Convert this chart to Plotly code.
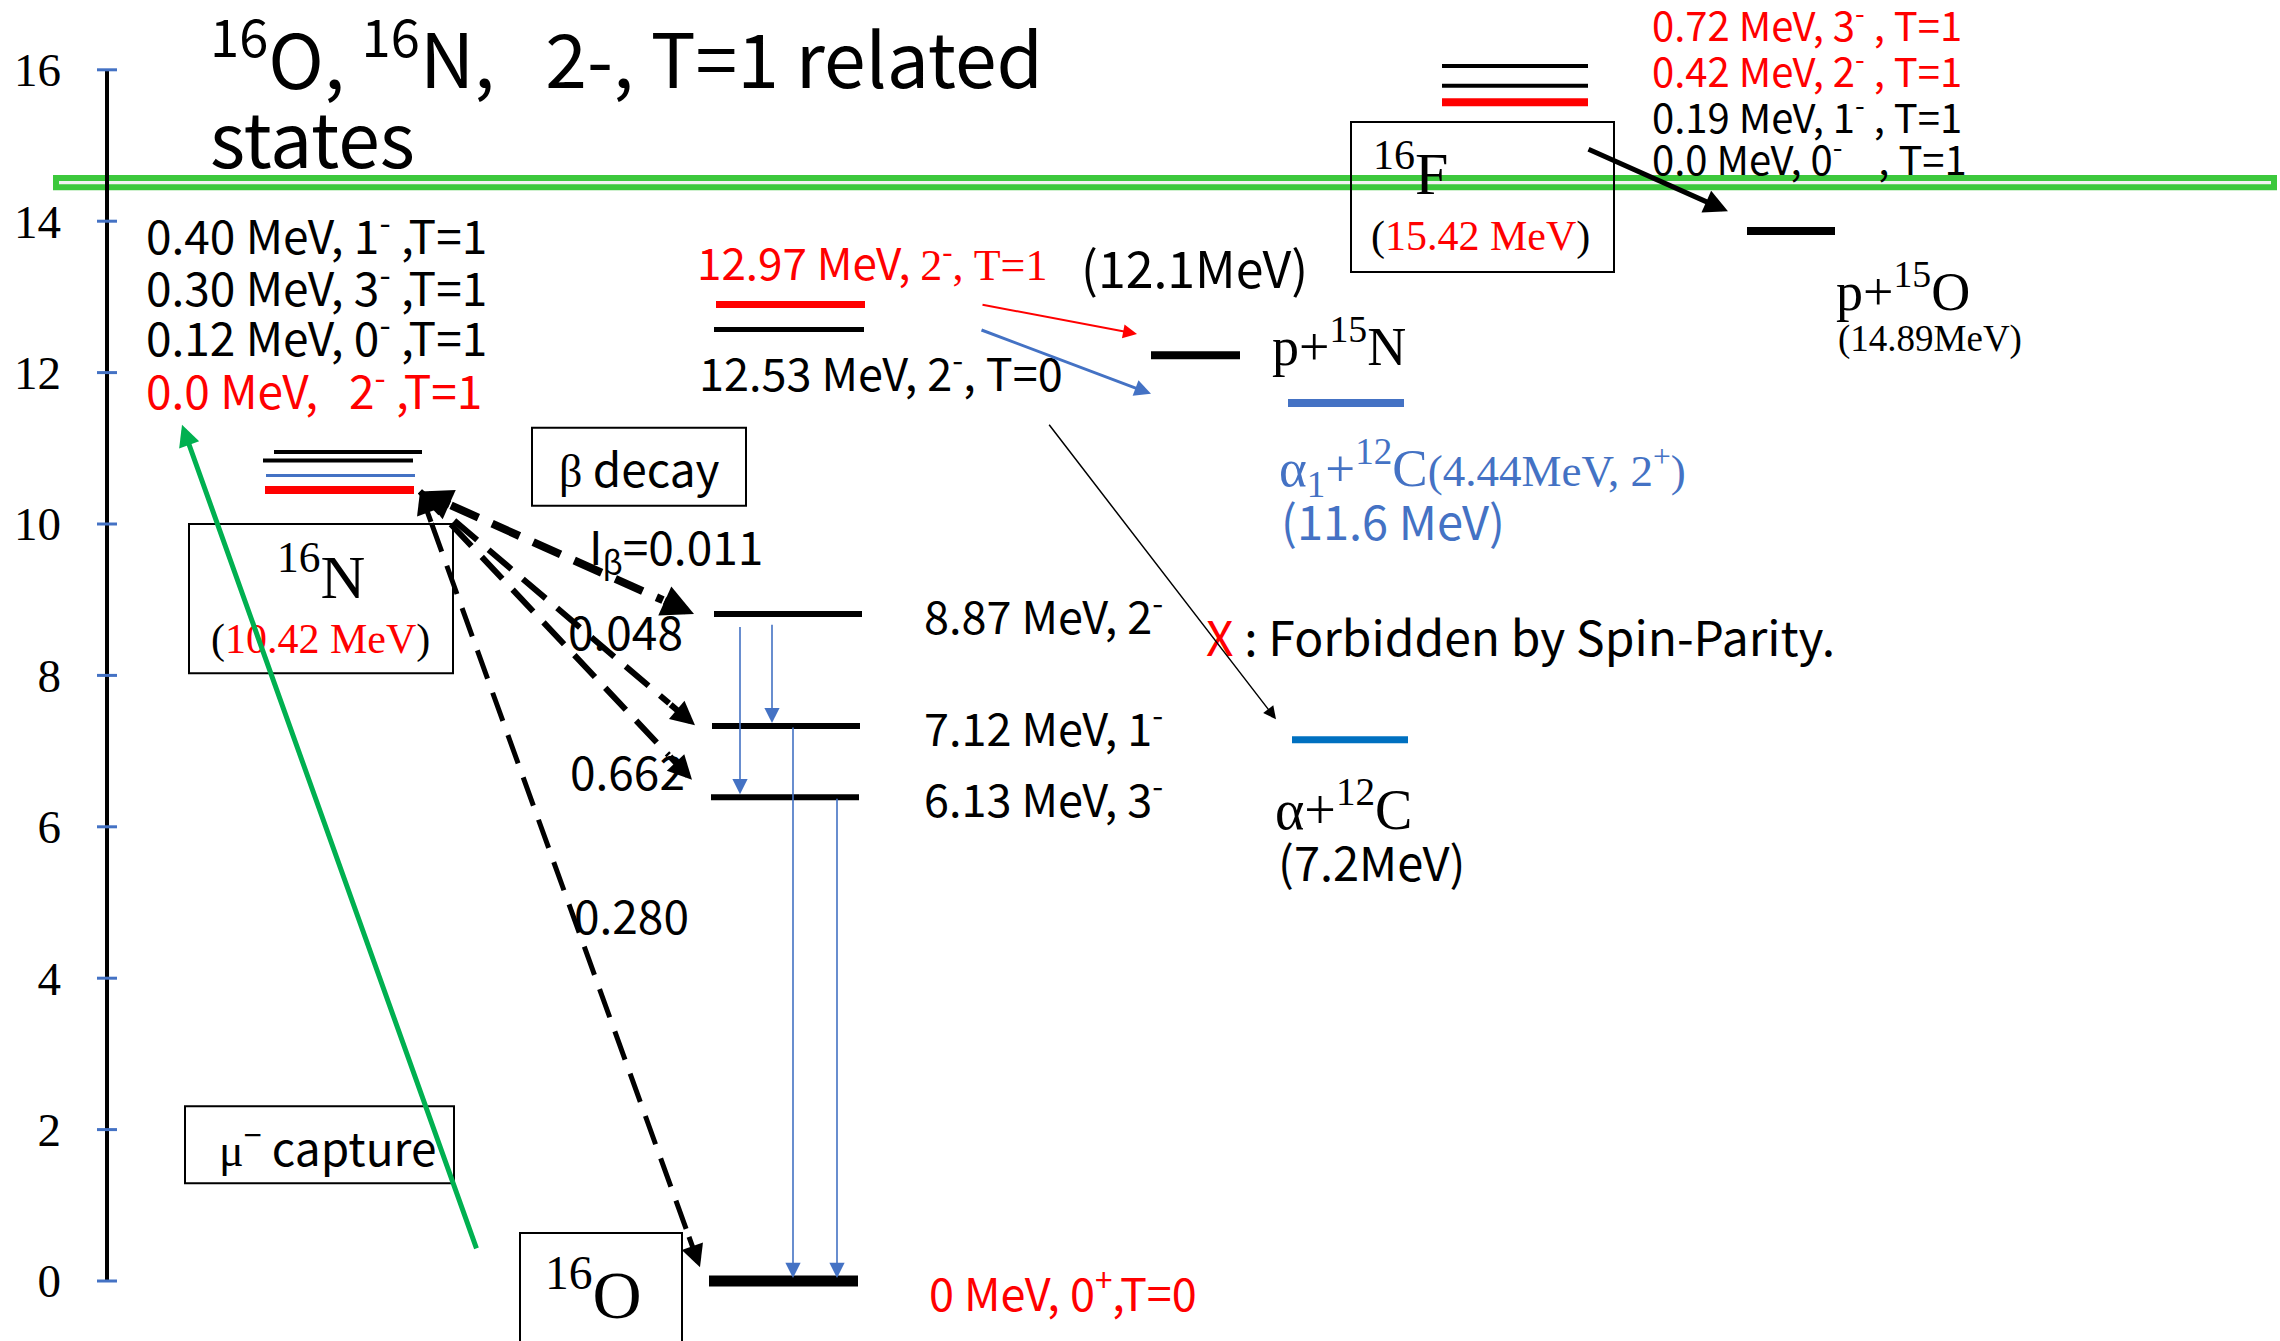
import math
import plotly.graph_objects as go

SANS = "Noto Sans CJK JP"
SERIF = "Liberation Serif"
RED = "#ff0000"
BLUE = "#4472c4"
BLUE2 = "#0070c0"
GREEN = "#00b050"
BAND = "#3cc83c"

# ---------------- data ----------------
axis_ticks = [0, 2, 4, 6, 8, 10, 12, 14, 16]

# 16N levels (as drawn, MeV) and their labels (0.0, 0.12, 0.30, 0.40 MeV)
n16_level_y = [10.45, 10.64, 10.84, 10.95]
n16_labels = ["0.0 MeV,\u00a0\u00a0 2<sup>-</sup> ,T=1", "0.12 MeV, 0<sup>-</sup> ,T=1",
              "0.30 MeV, 3<sup>-</sup> ,T=1", "0.40 MeV, 1<sup>-</sup> ,T=1"]

# 16O levels (as drawn, MeV)
o16_level_y = [8.81, 7.33, 6.39, 0.0]
o16_labels = ["8.87 MeV, 2<sup>-</sup>", "7.12 MeV, 1<sup>-</sup>",
              "6.13 MeV, 3<sup>-</sup>", "0 MeV, 0<sup>+</sup>,T=0"]
beta_branch = ["I<sub>β</sub>=0.011", "0.048", "0.662", "0.280"]
gamma_from = [0, 0, 1, 2]
gamma_to = [1, 2, 3, 3]

# 16O 2- states near 13 MeV (12.97 T=1, 12.53 T=0)
mid_level_y = [12.90, 12.57]
mid_labels = ["12.97 MeV, <span style='font-family:Liberation Serif'>2<sup>-</sup>, T=1</span>",
              "12.53 MeV, 2<sup>-</sup>, T=0"]

# decay channels (as drawn)
p15n_y = 12.23
a1c12_y = 11.60
ac12_y = 7.15
p15o_y = 13.87

# 16F levels (as drawn)
f16_level_y = [15.57, 15.79, 16.05]
f16_labels = ["0.0 MeV, 0<sup>-</sup>\u00a0\u00a0\u00a0 , T=1", "0.19 MeV, 1<sup>-</sup> , T=1",
              "0.42 MeV, 2<sup>-</sup> , T=1", "0.72 MeV, 3<sup>-</sup> , T=1"]

threshold_y = 14.51

# ---------------- figure ----------------
W, H = 2280, 1341
PX_PER_MEV = 75.7
fig = go.Figure()
ann = []
shapes = []


def seg(x0, x1, y0, y1, color, width, dash=None):
    fig.add_trace(go.Scatter(x=[x0, x1], y=[y0, y1], mode="lines",
                             line=dict(color=color, width=width, dash=dash),
                             hoverinfo="skip", showlegend=False))


def level(x0, x1, y, color, width):
    seg(x0, x1, y, y, color, width)


def arrow(x0, y0, x1, y1, color, width, size, head=2):
    ann.append(dict(x=x1, y=y1, ax=x0, ay=y0, xref="x", yref="y", axref="x", ayref="y",
                    text="", showarrow=True, arrowhead=head, arrowsize=size,
                    arrowwidth=width, arrowcolor=color, standoff=0, startstandoff=0))


def plen(x0, y0, x1, y1):
    return math.hypot(x1 - x0, (y1 - y0) * PX_PER_MEV)


def dashed_arrow(x0, y0, x1, y1, width, size, dash, tail=34, start_head=False):
    L = plen(x0, y0, x1, y1)
    f = tail / L
    xm, ym = x1 - f * (x1 - x0), y1 - f * (y1 - y0)
    xs, ys = x0, y0
    if start_head:
        xs, ys = x0 + f * (x1 - x0), y0 + f * (y1 - y0)
        arrow(xs, ys, x0, y0, "black", width, size)
    seg(xs, xm, ys, ym, "black", width, dash)
    arrow(xm, ym, x1, y1, "black", width, size)


def label(x, y, text, size, color="black", family=SANS, xanchor="left"):
    ann.append(dict(x=x, y=y, xref="x", yref="y", text=text, showarrow=False,
                    xanchor=xanchor, yanchor="middle",
                    font=dict(family=family, size=size, color=color)))


def box(x0, x1, y0, y1):
    shapes.append(dict(type="rect", xref="x", yref="y", x0=x0, x1=x1, y0=y0, y1=y1,
                       line=dict(color="black", width=2), fillcolor="rgba(0,0,0,0)", layer="below"))


# threshold band
shapes.append(dict(type="rect", xref="x", yref="y", x0=56, x1=2274,
                   y0=threshold_y - 0.06, y1=threshold_y + 0.06,
                   line=dict(color=BAND, width=6), fillcolor="#f2f2f2", layer="below"))

# energy axis line and ticks
seg(107, 107, min(axis_ticks), max(axis_ticks), "black", 4)
tx, ty = [], []
for v in axis_ticks:
    tx += [97, 117, None]
    ty += [v, v, None]
fig.add_trace(go.Scatter(x=tx, y=ty, mode="lines", line=dict(color=BLUE, width=3),
                         hoverinfo="skip", showlegend=False))

# title
label(208, 16.22, "<sup>16</sup>O, <sup>16</sup>N,\u00a0\u00a0 2-, T=1 related", 75)
label(208, 15.13, "states", 75)

# 16N levels
n16_x = [(265, 414), (266, 415), (263, 413), (274, 422)]
n16_col = [RED, BLUE, "black", "black"]
n16_w = [8, 3, 4, 4]
for i, y in enumerate(n16_level_y):
    level(n16_x[i][0], n16_x[i][1], y, n16_col[i], n16_w[i])
n16_lab_y = [11.80, 12.50, 13.17, 13.85]
for i, t in enumerate(n16_labels):
    label(144, n16_lab_y[i], t, 46, RED if i == 0 else "black")

# 16N box
box(189, 453, 8.03, 10.0)
label(321, 9.37, "<sup>16</sup>N", 62, family=SERIF, xanchor="center")
label(320, 8.47, "(<span style='color:#ff0000'>10.42 MeV</span>)", 42, family=SERIF, xanchor="center")

# beta decay box
box(532, 746, 10.24, 11.27)
label(639, 10.75, "<span style='font-family:Liberation Serif'>β</span> decay", 46, xanchor="center")

# 16O levels
o16_x = [(714, 862), (712, 860), (711, 859), (709, 858)]
o16_w = [6, 6, 6, 11]
for i, y in enumerate(o16_level_y):
    level(o16_x[i][0], o16_x[i][1], y, "black", o16_w[i])
o16_lab_dy = [0.02, 0.02, 0.02, -0.11]
for i, t in enumerate(o16_labels):
    label(922 if i < 3 else 927, o16_level_y[i] + o16_lab_dy[i], t, 45, RED if i == 3 else "black")

# beta-decay branches (dashed)
bx0, by0 = n16_x[0][1] + 6, n16_level_y[0] - 0.02
tip_dy = [0.0, 0.01, 0.23, 0.18]
tip_dx = [-20, -17, -19, -9]
b_w = [8, 6, 6, 5]
b_size = [0.8, 0.8, 0.8, 0.9]
for i in range(4):
    dashed_arrow(bx0, by0, o16_x[i][0] + tip_dx[i], o16_level_y[i] + tip_dy[i],
                 b_w[i], b_size[i], "30px,15px", start_head=(i in (0, 3)))
beta_pos = [(587, 9.68), (566, 8.60), (568, 6.75), (572, 4.85)]
for i, t in enumerate(beta_branch):
    label(beta_pos[i][0], beta_pos[i][1], t, 46)

# gamma transitions
gx = [772, 740, 793, 837]
g_start_dy = [-0.12, -0.15, 0.0, 0.0]
for i in range(4):
    arrow(gx[i], o16_level_y[gamma_from[i]] + g_start_dy[i], gx[i],
          o16_level_y[gamma_to[i]] + 0.04, BLUE, 1.6, 1.9)

# muon capture
box(185, 454, 1.29, 2.31)
label(327, 1.80, "<span style='font-family:Liberation Serif'>μ</span><sup>−</sup> capture", 46, xanchor="center")
arrow(477, o16_level_y[3] + 0.41, 182, n16_level_y[0] + 0.86, GREEN, 5, 0.85)

# 16O box
box(520, 682, -1.2, 0.634)
label(593, -0.12, "<sup>16</sup>O", 68, family=SERIF, xanchor="center")

# mid levels (12.97, 12.53)
level(716, 865, mid_level_y[0], RED, 7)
level(714, 864, mid_level_y[1], "black", 5)
label(695, 13.47, mid_labels[0], 44, RED)
label(697, 12.04, mid_labels[1], 45)
label(1079, 13.41, "(12.1MeV)", 50)

# channels
level(1151, 1240, p15n_y, "black", 8)
level(1288, 1404, a1c12_y, BLUE, 8)
level(1292, 1408, ac12_y, BLUE2, 7)
label(1270, 12.40, "p+<sup>15</sup>N", 54, family=SERIF)
label(1277, 10.74, "α<sub>1</sub>+<sup>12</sup>C<span style='font-size:45px'>(4.44MeV, 2<sup>+</sup>)</span>",
      53, BLUE, SERIF)
label(1279, 10.06, "(11.6 MeV)", 47, BLUE)
label(1273, 6.28, "α+<sup>12</sup>C", 56, family=SERIF)
label(1276, 5.55, "(7.2MeV)", 47)
label(1204, 8.54, "<span style='color:#ff0000'>X</span> : Forbidden by Spin-Parity.", 48)

arrow(981, mid_level_y[0], 1137, p15n_y + 0.28, RED, 2, 1.4)
arrow(980, mid_level_y[1], 1151, a1c12_y + 0.12, BLUE, 3, 1.1)
arrow(1048, mid_level_y[1] - 1.24, 1276, ac12_y + 0.27, "black", 1.5, 1.7)

# 16F
for i, y in enumerate(f16_level_y):
    level(1442, 1588, y, RED if i == 0 else "black", 8 if i == 0 else 4)
box(1351, 1614, 13.33, 15.31)
label(1371, 14.68, "<sup>16</sup>F", 60, family=SERIF)
label(1480, 13.80, "(<span style='color:#ff0000'>15.42 MeV</span>)", 42, family=SERIF, xanchor="center")
f16_lab_y = [14.86, 15.41, 16.02, 16.63]
for i, t in enumerate(f16_labels):
    label(1650, f16_lab_y[i], t, 40, RED if i >= 2 else "black")
level(1747, 1835, p15o_y, "black", 8)
arrow(1587, f16_level_y[0] - 0.61, 1728, p15o_y + 0.26, "black", 5, 0.95)
label(1834, 13.12, "p+<sup>15</sup>O", 54, family=SERIF)
label(1836, 12.45, "(14.89MeV)", 37, family=SERIF)

fig.update_layout(
    width=W, height=H, margin=dict(l=0, r=0, t=0, b=0),
    paper_bgcolor="white", plot_bgcolor="white",
    xaxis=dict(range=[0, W], visible=False, fixedrange=True),
    yaxis=dict(range=[-0.7926, 16.922], anchor="free", position=107 / W, side="left",
               showgrid=False, zeroline=False, showline=False, ticks="",
               tickvals=axis_ticks, ticktext=[str(v) for v in axis_ticks],
               tickfont=dict(family=SERIF, size=47, color="black"),
               ticklabelstandoff=46, fixedrange=True),
    annotations=ann, shapes=shapes, showlegend=False,
)
fig.write_html("out.html")
